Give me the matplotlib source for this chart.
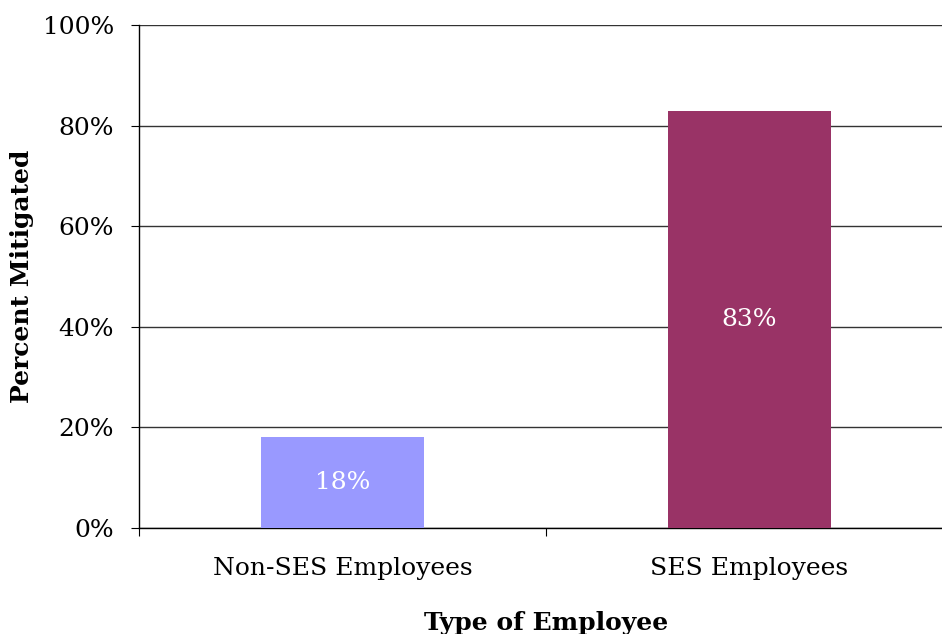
import matplotlib
matplotlib.use('Agg')
import matplotlib.pyplot as plt

categories = ['Non-SES Employees', 'SES Employees']
percent_mitigated = [18, 83]
bar_colors = ['#9999FF', '#993366']
y_ticks = [0, 20, 40, 60, 80, 100]

plt.rcParams['font.family'] = ['DejaVu Serif']

fig = plt.figure(figsize=(9.42, 6.34), dpi=100)
# axes runs a little past the right edge, like the original
ax = fig.add_axes([139 / 942, 106 / 634, 814 / 942, 503 / 634])

x = range(len(categories))
bars = ax.bar(x, percent_mitigated, width=0.4, color=bar_colors, zorder=3)

for b, v in zip(bars, percent_mitigated):
    ax.text(b.get_x() + b.get_width() / 2, v / 2, '%d%%' % v,
            ha='center', va='center', color='white', fontsize=18, zorder=4)

ax.set_xlim(-0.5, 1.5)
ax.set_ylim(0, 100)
ax.set_yticks(y_ticks)
ax.set_yticklabels(['%d%%' % t for t in y_ticks], fontsize=18)
ax.yaxis.grid(True, color='#333333', linewidth=1, zorder=0)

# category labels between boundary ticks
ax.set_xticks([-0.5, 0.5, 1.5])
ax.set_xticklabels([])
ax.set_xticks(list(x), minor=True)
ax.set_xticklabels(categories, minor=True, fontsize=18)
ax.tick_params(axis='x', which='minor', length=0, pad=21)
ax.tick_params(axis='x', which='major', length=6, direction='out')
ax.tick_params(axis='y', length=6, direction='out', pad=12)

for s in ['top', 'right']:
    ax.spines[s].set_visible(False)
for s in ['left', 'bottom']:
    ax.spines[s].set_color('black')
    ax.spines[s].set_linewidth(1)

ax.set_xlabel('Type of Employee', fontsize=18, fontweight='bold', labelpad=22)
ax.set_ylabel('Percent Mitigated', fontsize=18, fontweight='bold', labelpad=6)

fig.savefig('out.png', dpi=100)
